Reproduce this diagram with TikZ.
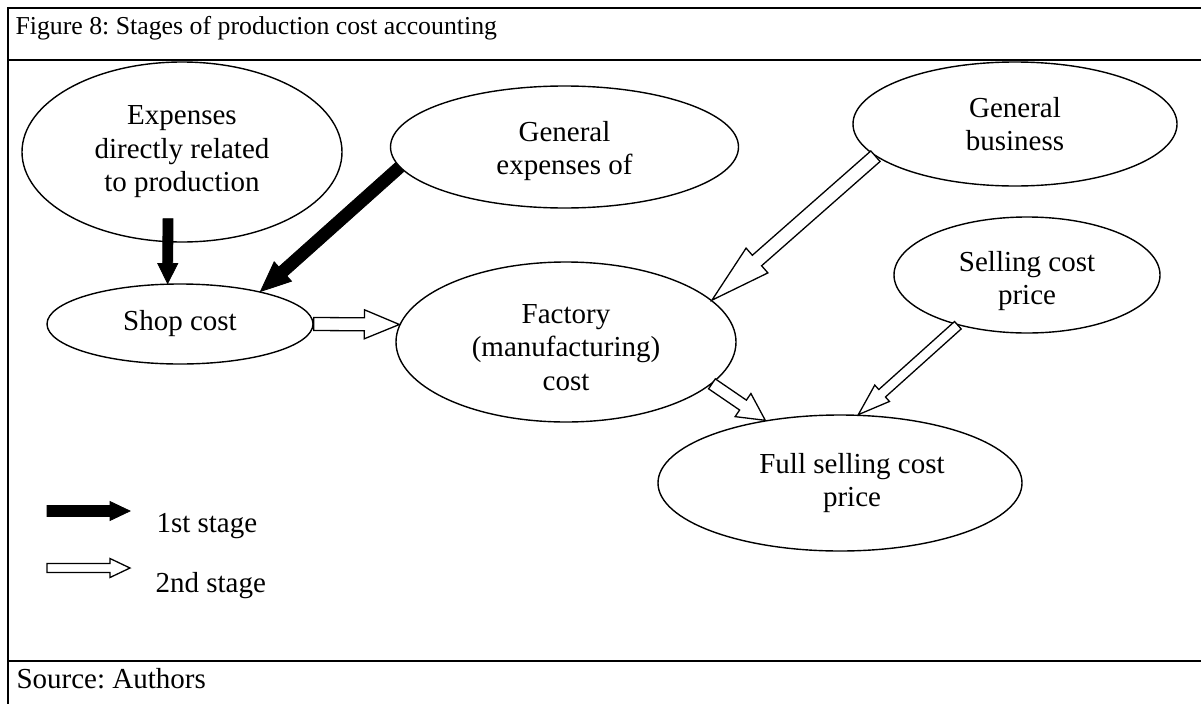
\documentclass[tikz,border=0pt]{standalone}
\usepackage{fontspec}
\setmainfont{Liberation Serif}
\usetikzlibrary{shapes.geometric,calc}
\frenchspacing

% Block arrow drawn as a polygon from a tail point to a tip point.
% #1 style, #2 tail, #3 tip, #4 half shaft width, #5 half head width, #6 head length
\newcommand\stagearrow[6]{%
  \coordinate (ba-base) at ($#3!#6!#2$);
  \draw[#1] ($#2!#4!90:#3$) -- ($(ba-base)!#4!90:#3$) -- ($(ba-base)!#5!90:#3$)
    -- #3 -- ($(ba-base)!#5!-90:#3$) -- ($(ba-base)!#4!-90:#3$)
    -- ($#2!#4!-90:#3$) -- cycle;
}
% taller first line, to set a label block a little lower in its oval
\newcommand\lowerby[1]{\rule{0pt}{\dimexpr 20pt+2\dimexpr #1\relax\relax}}

\tikzset{
  bodyfont/.style={font=\fontsize{29}{33.5}\selectfont},
  oval/.style={ellipse, draw, line width=1.4pt, inner sep=0pt, align=center, bodyfont},
  firststage/.style={fill=black, draw=black, line width=0.8pt, line join=miter},
  secondstage/.style={fill=white, draw=black, line width=1.3pt, line join=miter},
  frameline/.style={line width=2pt},
}

\begin{document}
\begin{tikzpicture}[x=1pt,y=-1pt]
\useasboundingbox (0,0) rectangle (1201,704);

% table frame
\draw[frameline] (1201,7.5) -- (7.5,7.5) -- (7.5,704);
\draw[frameline] (7.5,59.5) -- (1201,59.5);
\draw[frameline] (7.5,661) -- (1201,661);

\node[anchor=base west, font=\fontsize{25.8}{30}\selectfont] (title) at (12,34)
  {Figure 8: Stages of production cost accounting};
\node[anchor=base west, bodyfont] (source) at (13,688) {Source: Authors};

% cost stages
\node[oval, minimum width=320pt, minimum height=180pt] (exp) at (182,152)
  {Expenses\\directly related\\to production};
\node[oval, minimum width=348pt, minimum height=122pt] (genexp) at (564.5,147)
  {\lowerby{4pt}General\\expenses of};
\node[oval, minimum width=324pt, minimum height=124pt] (gb) at (1015,124)
  {General\\business};
\node[oval, minimum width=266pt, minimum height=116pt] (sell) at (1027,275)
  {\lowerby{6pt}Selling cost\\price};
\node[oval, minimum width=266pt, minimum height=80pt] (shop) at (180,324)
  {Shop cost};
\node[oval, minimum width=340pt, minimum height=160pt] (fac) at (566,342)
  {\lowerby{5pt}Factory\\(manufacturing)\\cost};
\node[oval, minimum width=364pt, minimum height=136pt] (full) at (840,483)
  {\hspace*{24pt}Full selling cost\\\hspace*{24pt}price};

% 1st stage arrows
\coordinate (a1t) at ($(exp.south)+(-14,-24)$);
\stagearrow{firststage}{(a1t)}{(shop.107)}{5pt}{10pt}{20pt}
\stagearrow{firststage}{(genexp.187)}{(shop.22)}{6pt}{13pt}{30pt}

% 2nd stage arrows
\stagearrow{secondstage}{(shop.east)}{(fac.174)}{6.5pt}{14.5pt}{35pt}
\stagearrow{secondstage}{(gb.193)}{(fac.16)}{7pt}{16.5pt}{60pt}
\stagearrow{secondstage}{(fac.-16)}{(full.140)}{6pt}{14pt}{27pt}
\stagearrow{secondstage}{(sell.216)}{(full.75)}{5pt}{11pt}{32pt}

% legend
\coordinate (k1a) at (47,511);
\coordinate (k1b) at (130,511);
\coordinate (k2a) at (47,568);
\coordinate (k2b) at (130,568);
\stagearrow{firststage}{(k1a)}{(k1b)}{5.5pt}{9.5pt}{20pt}
\stagearrow{secondstage}{(k2a)}{(k2b)}{4.5pt}{9.5pt}{20pt}
\node[anchor=base west, bodyfont] (k1t) at (153,532) {1st stage};
\node[anchor=base west, bodyfont] (k2t) at (152,592) {2nd stage};
\end{tikzpicture}
\end{document}
